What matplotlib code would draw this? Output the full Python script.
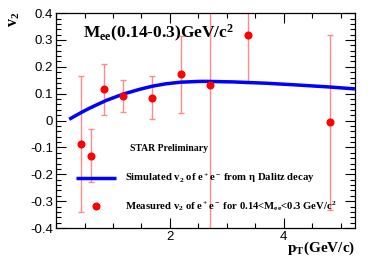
import matplotlib
matplotlib.use("Agg")
import matplotlib.pyplot as plt
from matplotlib.ticker import MultipleLocator
import numpy as np

plt.rcParams['mathtext.fontset'] = 'custom'
plt.rcParams['mathtext.rm'] = 'Liberation Serif:bold'
plt.rcParams['mathtext.it'] = 'Liberation Serif:bold'
plt.rcParams['mathtext.bf'] = 'Liberation Serif:bold'

# === data ===
pt = [0.44, 0.61, 0.85, 1.17, 1.68, 2.19, 2.71, 3.37, 4.81]
v2 = [-0.086, -0.130, 0.117, 0.091, 0.085, 0.173, 0.133, 0.317, -0.007]
err_hi = [0.167, -0.031, 0.210, 0.150, 0.165, 0.316, 0.55, 0.50, 0.320]
err_lo = [-0.340, -0.229, 0.021, 0.032, 0.005, 0.029, -0.50, 0.139, -0.333]

# simulated eta Dalitz curve
sim_pt = [0.23, 0.44, 0.585, 0.88, 1.17, 1.46, 1.69, 1.93, 2.19, 2.53, 2.63,
          3.11, 3.70, 4.28, 4.81, 5.25]
sim_v2 = [0.005, 0.030, 0.046, 0.075, 0.098, 0.116, 0.128, 0.137, 0.143, 0.146,
          0.146, 0.144, 0.139, 0.132, 0.125, 0.118]

fig = plt.figure(figsize=(3.74, 2.68), dpi=100)
ax = fig.add_axes([0.150, 0.149, 0.799, 0.802])

v2 = np.array(v2)
yerr = [v2 - np.array(err_lo), np.array(err_hi) - v2]
ax.errorbar(pt, v2, yerr=yerr, fmt='none', ecolor='#ff8a8a', elinewidth=1.0,
            capsize=2.5, capthick=1.0, zorder=2)
ax.plot(pt, v2, 'o', color='#ff0000', markersize=4.8, zorder=4)
ax.plot(sim_pt, sim_v2, color='#0000ff', linewidth=2.5, zorder=3,
        solid_capstyle='butt', solid_joinstyle='round')

ax.set_xlim(0, 5.25)
ax.set_ylim(-0.4, 0.4)
ax.xaxis.set_major_locator(MultipleLocator(2))
ax.xaxis.set_minor_locator(MultipleLocator(0.5))
ax.yaxis.set_major_locator(MultipleLocator(0.1))
ax.yaxis.set_minor_locator(MultipleLocator(0.02))
ax.set_yticks(np.arange(-0.4, 0.41, 0.1))
ax.set_yticklabels(['-0.4', '-0.3', '-0.2', '-0.1', '0', '0.1', '0.2', '0.3', '0.4'])
ax.set_xticks([2, 4])
ax.set_xticklabels(['2', '4'])
ax.tick_params(which='both', direction='in', top=True, right=True, width=0.8)
ax.tick_params(which='major', length=7, labelsize=9.5, pad=2)
ax.tick_params(which='minor', length=3.5)
for lab in ax.get_xticklabels() + ax.get_yticklabels():
    lab.set_family('Liberation Sans')
for s in ax.spines.values():
    s.set_linewidth(0.9)

fig.text(0.037, 0.955, r'v$_2$', rotation=90, family='Liberation Serif',
         weight='bold', fontsize=11.5, ha='center', va='top')
fig.text(0.949, 0.075, r'p$_T$(GeV/c)', family='Liberation Serif',
         weight='bold', fontsize=11, ha='right', va='center')

ax.text(0.47, 0.325, r'M$_{ee}$(0.14-0.3)GeV/c$^2$', family='Liberation Serif',
        weight='bold', fontsize=12.5, ha='left', va='center')
ax.text(1.3, -0.105, 'STAR Preliminary', family='Liberation Serif',
        weight='bold', fontsize=7, ha='left', va='center')

# legend drawn by hand
ax.plot([0.35, 1.05], [-0.215, -0.215], color='#0000ff', linewidth=2.5,
        solid_capstyle='butt')
ax.plot([0.7], [-0.318], 'o', color='#ff0000', markersize=4.8)
ax.text(1.21, -0.215, r'Simulated v$_2$ of e$^+$e$^-$ from $\eta$ Dalitz decay',
        family='Liberation Serif', weight='bold', fontsize=7.7, ha='left', va='center')
ax.text(1.21, -0.318, r'Measured v$_2$ of e$^+$e$^-$ for 0.14<M$_{ee}$<0.3 GeV/c$^2$',
        family='Liberation Serif', weight='bold', fontsize=7.7, ha='left', va='center')

plt.savefig('out.png', dpi=100)
